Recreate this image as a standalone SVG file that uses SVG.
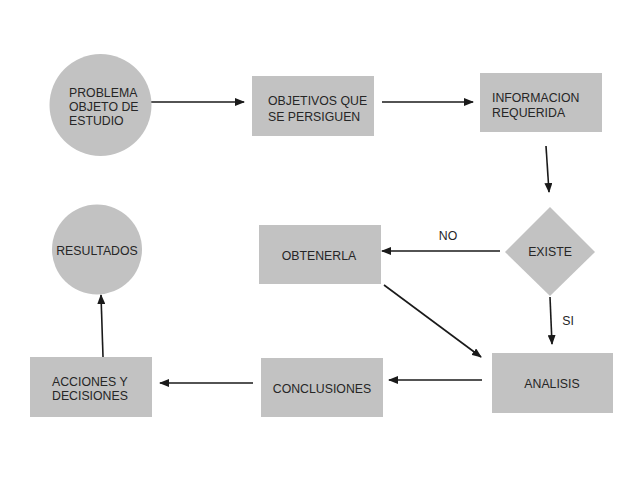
<svg xmlns="http://www.w3.org/2000/svg" width="638" height="479" viewBox="0 0 638 479">
<defs>
<style>
.n{fill:#c2c2c2;stroke:none}
.t{font-family:"Liberation Sans",Arial,sans-serif;font-size:12.3px;fill:#262626}
.c{text-anchor:middle}
.e{stroke:#1a1a1a;stroke-width:1.6;fill:none;marker-end:url(#ah)}
</style>
<marker id="ah" markerWidth="10" markerHeight="8" refX="9" refY="4" orient="auto" markerUnits="userSpaceOnUse">
<path d="M0,0 L10,4 L0,8 Z" fill="#1a1a1a"/>
</marker>
</defs>
<rect width="638" height="479" fill="#ffffff"/>
<g id="connectors">
<line class="e" x1="151" y1="102" x2="244" y2="102"/>
<line class="e" x1="382" y1="102" x2="473" y2="102"/>
<line class="e" x1="546" y1="146" x2="549" y2="192"/>
<line class="e" x1="500" y1="251" x2="382" y2="251"/>
<line class="e" x1="550" y1="297" x2="552" y2="344"/>
<line class="e" x1="384" y1="285" x2="481" y2="357"/>
<line class="e" x1="482" y1="380" x2="389" y2="380"/>
<line class="e" x1="253" y1="383" x2="160" y2="383"/>
<line class="e" x1="103" y1="357" x2="101" y2="295"/>
<text class="t c" x="448" y="240">NO</text>
<text class="t c" x="568" y="325">SI</text>
</g>
<g id="problema">
<circle class="n" cx="100.5" cy="105" r="51"/>
<text class="t" x="69" y="97">PROBLEMA</text>
<text class="t" x="69" y="111">OBJETO DE</text>
<text class="t" x="69" y="125">ESTUDIO</text>
</g>
<g id="objetivos">
<rect class="n" x="252" y="76" width="122" height="60"/>
<text class="t" x="268" y="105">OBJETIVOS QUE</text>
<text class="t" x="268" y="121">SE PERSIGUEN</text>
</g>
<g id="informacion">
<rect class="n" x="480" y="73" width="122" height="59"/>
<text class="t" x="492" y="102">INFORMACION</text>
<text class="t" x="492" y="117">REQUERIDA</text>
</g>
<g id="existe">
<polygon class="n" points="550,207 595,252 550,296 505,252"/>
<text class="t c" x="550" y="256">EXISTE</text>
</g>
<g id="obtenerla">
<rect class="n" x="259" y="225" width="122" height="59"/>
<text class="t c" x="319" y="260">OBTENERLA</text>
</g>
<g id="resultados">
<circle class="n" cx="97" cy="249.5" r="45"/>
<text class="t c" x="97" y="255">RESULTADOS</text>
</g>
<g id="analisis">
<rect class="n" x="492" y="353" width="121" height="60"/>
<text class="t c" x="552" y="388">ANALISIS</text>
</g>
<g id="conclusiones">
<rect class="n" x="261" y="358" width="122" height="59"/>
<text class="t c" x="322" y="393">CONCLUSIONES</text>
</g>
<g id="acciones">
<rect class="n" x="30" y="357" width="122" height="60"/>
<text class="t" x="52" y="386">ACCIONES Y</text>
<text class="t" x="52" y="400">DECISIONES</text>
</g>
</svg>
